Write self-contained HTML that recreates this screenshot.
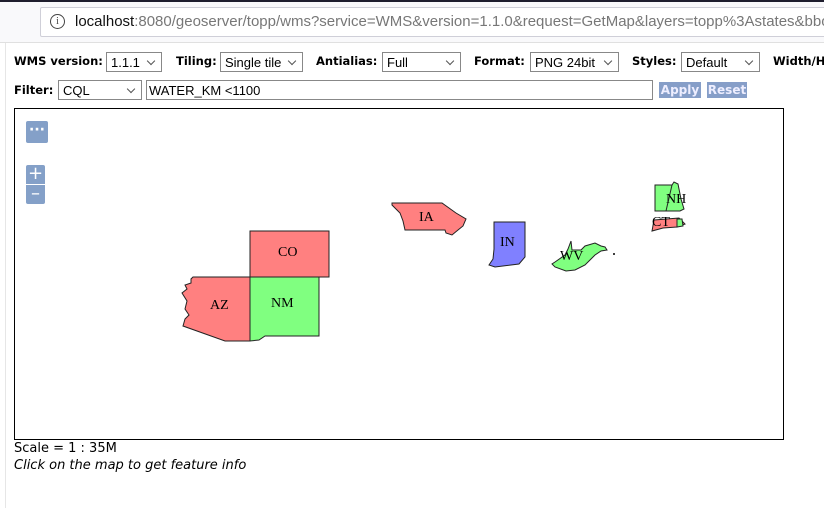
<!DOCTYPE html>
<html><head><meta charset="utf-8"><style>
body{margin:0;width:824px;height:508px;overflow:hidden;background:#fff;font-family:"DejaVu Sans","Liberation Sans",sans-serif;position:relative}
.top{position:absolute;left:0;top:0;width:824px;height:2px;background:#1f1e2e}
.bar{position:absolute;left:0;top:2px;width:824px;height:40px;background:#f9f9fb;border-bottom:1px solid #e0e0e0;overflow:hidden}
.url{position:absolute;left:40px;top:5px;width:790px;height:28px;background:#fff;border:1px solid #cfcfd8;border-radius:2px;font-family:"Liberation Sans",sans-serif;font-size:15px;line-height:28px;color:#777;white-space:nowrap;overflow:hidden}
.url .i{position:absolute;left:9px;top:6px;width:13px;height:13px;border:1.3px solid #444;border-radius:50%;font-size:10px;line-height:13px;text-align:center;color:#444;font-family:"Liberation Serif",serif}
.url span.t{position:absolute;left:34px}
.vl{position:absolute;left:5px;top:43px;width:1px;height:465px;background:#e6e6e6}
.lbl{position:absolute;font-weight:bold;font-size:11.5px;color:#000}
.sel{position:absolute;height:20px;border:1px solid #888;background:#fff;font-family:"Liberation Sans",sans-serif;font-size:13px;line-height:19px;padding-left:4px;box-sizing:border-box;color:#000;white-space:nowrap;overflow:hidden}
.sel.d:after{content:"";position:absolute;right:7px;top:5px;width:5px;height:5px;border-right:1px solid #555;border-bottom:1px solid #555;transform:rotate(45deg)}
.btn{position:absolute;top:82px;height:16px;background:#869ec8;color:#eef;font-weight:bold;font-size:12px;line-height:16px;text-align:center}
.map{position:absolute;left:14px;top:108px;width:768px;height:330px;border:1px solid #000}
.cb{position:absolute;background:#84a0c8;border-radius:2px;color:#fff;text-align:center}
.txt{position:absolute;left:14px;font-size:13px;color:#000}
</style></head><body>
<div class="top"></div>
<div class="bar"><div class="url"><div class="i">i</div><span class="t"><span style="color:#111">localhost</span>:8080/geoserver/topp/wms?service=WMS&amp;version=1.1.0&amp;request=GetMap&amp;layers=topp%3Astates&amp;bbox=-124</span></div></div>
<div class="vl"></div>
<div class="lbl" style="left:14px;top:54px">WMS version:</div>
<div class="sel d" style="left:106px;top:52px;width:56px">1.1.1</div>
<div class="lbl" style="left:176px;top:54px">Tiling:</div>
<div class="sel d" style="left:220px;top:52px;width:83px">Single tile</div>
<div class="lbl" style="left:316px;top:54px">Antialias:</div>
<div class="sel d" style="left:382px;top:52px;width:79px">Full</div>
<div class="lbl" style="left:474px;top:54px">Format:</div>
<div class="sel d" style="left:530px;top:52px;width:89px">PNG 24bit</div>
<div class="lbl" style="left:632px;top:54px">Styles:</div>
<div class="sel d" style="left:681px;top:52px;width:79px">Default</div>
<div class="lbl" style="left:773px;top:54px;white-space:nowrap">Width/H</div>
<div class="lbl" style="left:14px;top:83px">Filter:</div>
<div class="sel d" style="left:58px;top:80px;width:84px">CQL</div>
<div class="sel" style="left:146px;top:80px;width:507px;padding-left:2px">WATER_KM &lt;1100</div>
<div class="btn" style="left:659px;width:42px">Apply</div>
<div class="btn" style="left:707px;width:40px">Reset</div>
<div class="map">
<svg width="768" height="330" style="position:absolute;left:0;top:0" font-family="Liberation Serif,serif" font-size="14">
<g stroke="#222" stroke-width="1">
<polygon points="235,122 314,122 314,168 235,168" fill="#ff8080"/>
<polygon points="178,168 235,168 235,232 210,232 168,217 170,210 174,206 170,200 172,192 167,184 172,180 170,176 176,174 176,170" fill="#ff8080"/>
<polygon points="235,168 304,168 304,227 250,227 244,231 235,232" fill="#80ff80"/>
<polygon points="377,94 427,94 441,104 451,110 448,117 443,121 437,126 431,124 430,121 390,121 388,112 385,104 377,96" fill="#ff8080"/>
<polygon points="479,113 510,113 510,148 504,155 480,158 474,156 478,150 479,140" fill="#8080ff"/>
<polygon points="540,153 550,146 553,140 556,132 557,141 566,141 570,137 580,134 586,137 590,138 592,141 586,142 580,146 575,151 570,156 560,161 551,162 540,158 537,155" fill="#80ff80"/>
<polygon points="640,76 657,76 659,73 663,75 666,90 669,100 665,102 640,102" fill="#80ff80"/>
<line x1="657" y1="76" x2="651" y2="102"/>
<polygon points="639,111 664,109 666,111 670,115 662,118 648,119 637,122" fill="#ff8080"/>
<polygon points="662,110 667,110 668,117 662,118" fill="#80ff80"/>
</g>
<circle cx="599" cy="145" r="1" fill="#000"/>
<g fill="#000">
<text x="263" y="147">CO</text><text x="195" y="200">AZ</text><text x="256" y="198">NM</text>
<text x="404" y="112">IA</text><text x="485" y="137">IN</text><text x="545" y="151">WV</text>
<text x="651" y="94">NH</text><text x="637" y="117">CT</text>
</g>
</svg>
<div class="cb" style="left:11px;top:12px;width:22px;height:22px;font-size:14px;line-height:18px;font-weight:bold">···</div>
<div class="cb" style="left:11px;top:56px;width:19px;height:19px;font-size:18px;line-height:18px;border-radius:2px 2px 0 0">+</div>
<div class="cb" style="left:11px;top:76px;width:19px;height:19px;font-size:18px;line-height:17px;border-radius:0 0 2px 2px">–</div>
</div>
<div class="txt" style="top:441px">Scale = 1 : 35M</div>
<div class="txt" style="top:458px;font-style:italic">Click on the map to get feature info</div>
</body></html>
